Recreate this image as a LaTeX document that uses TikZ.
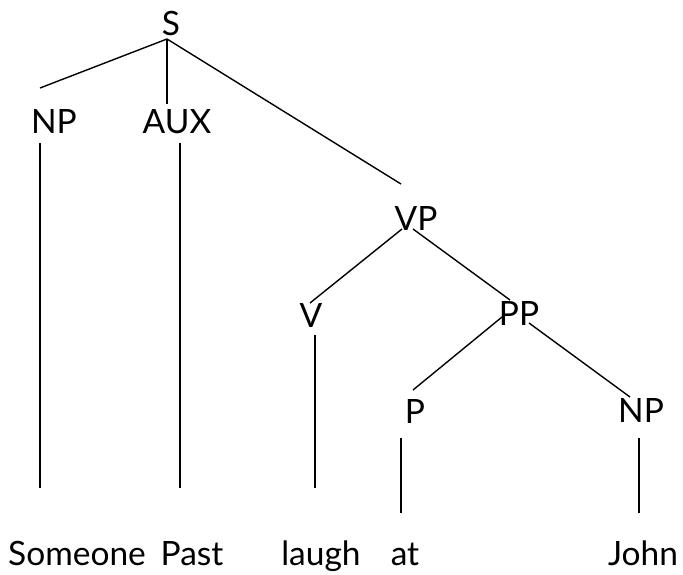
\documentclass[tikz,border=0pt]{standalone}
\usepackage{fontspec}
\setmainfont{Lato}
\usetikzlibrary{calc}
\begin{document}
\begin{tikzpicture}[x=1pt,y=-1pt,
  lbl/.style={anchor=base,inner sep=0pt,font=\fontsize{33.5}{38}\selectfont},
  edge/.style={line width=1.4pt}]
\useasboundingbox (0,0) rectangle (683,574);
\node[lbl] (S) at (171,35) {S};
\node[lbl] (NPa) at (54,133) {NP};
\node[lbl] (AUX) at (177,133) {AUX};
\node[lbl] (VP) at (416,230) {VP};
\node[lbl] (V) at (311,327) {V};
\node[lbl] (PP) at (519,325) {PP};
\node[lbl] (P) at (415,423) {P};
\node[lbl] (NPb) at (641,422) {NP};
\node[lbl] (w1) at (77,565) {Someone};
\node[lbl] (w2) at (192,565) {Past};
\node[lbl] (w3) at (321,565) {laugh};
\node[lbl] (w4) at (405,565) {at};
\node[lbl] (w5) at (643,565) {John};
\draw[edge] ($(S.base)+(-4,4)$) -- ($(NPa.base)+(-14,-45)$);
\draw[edge] ($(S.base)+(-4,4)$) -- ($(AUX.base)+(-10,-29)$);
\draw[edge] ($(S.base)+(-4,4)$) -- ($(VP.base)+(-15,-46)$);
\draw[edge] ($(NPa.base)+(-14,10)$) -- ($(w1.base)+(-37,-77)$);
\draw[edge] ($(AUX.base)+(3,10)$) -- ($(w2.base)+(-12,-77)$);
\draw[edge] ($(VP.base)+(-14,-1)$) -- ($(V.base)+(-1,-24)$);
\draw[edge] ($(VP.base)+(-3,-1)$) -- ($(PP.base)+(-9,-25)$);
\draw[edge] ($(V.base)+(4,8)$) -- ($(w3.base)+(-6,-77)$);
\draw[edge] ($(PP.base)+(-17,-8)$) -- ($(P.base)+(-2,-33)$);
\draw[edge] ($(PP.base)+(10,-2)$) -- ($(NPb.base)+(-11,-25)$);
\draw[edge] ($(P.base)+(-14,15)$) -- ($(w4.base)+(-4,-52)$);
\draw[edge] ($(NPb.base)+(-2,16)$) -- ($(w5.base)+(-4,-52)$);
\end{tikzpicture}
\end{document}
